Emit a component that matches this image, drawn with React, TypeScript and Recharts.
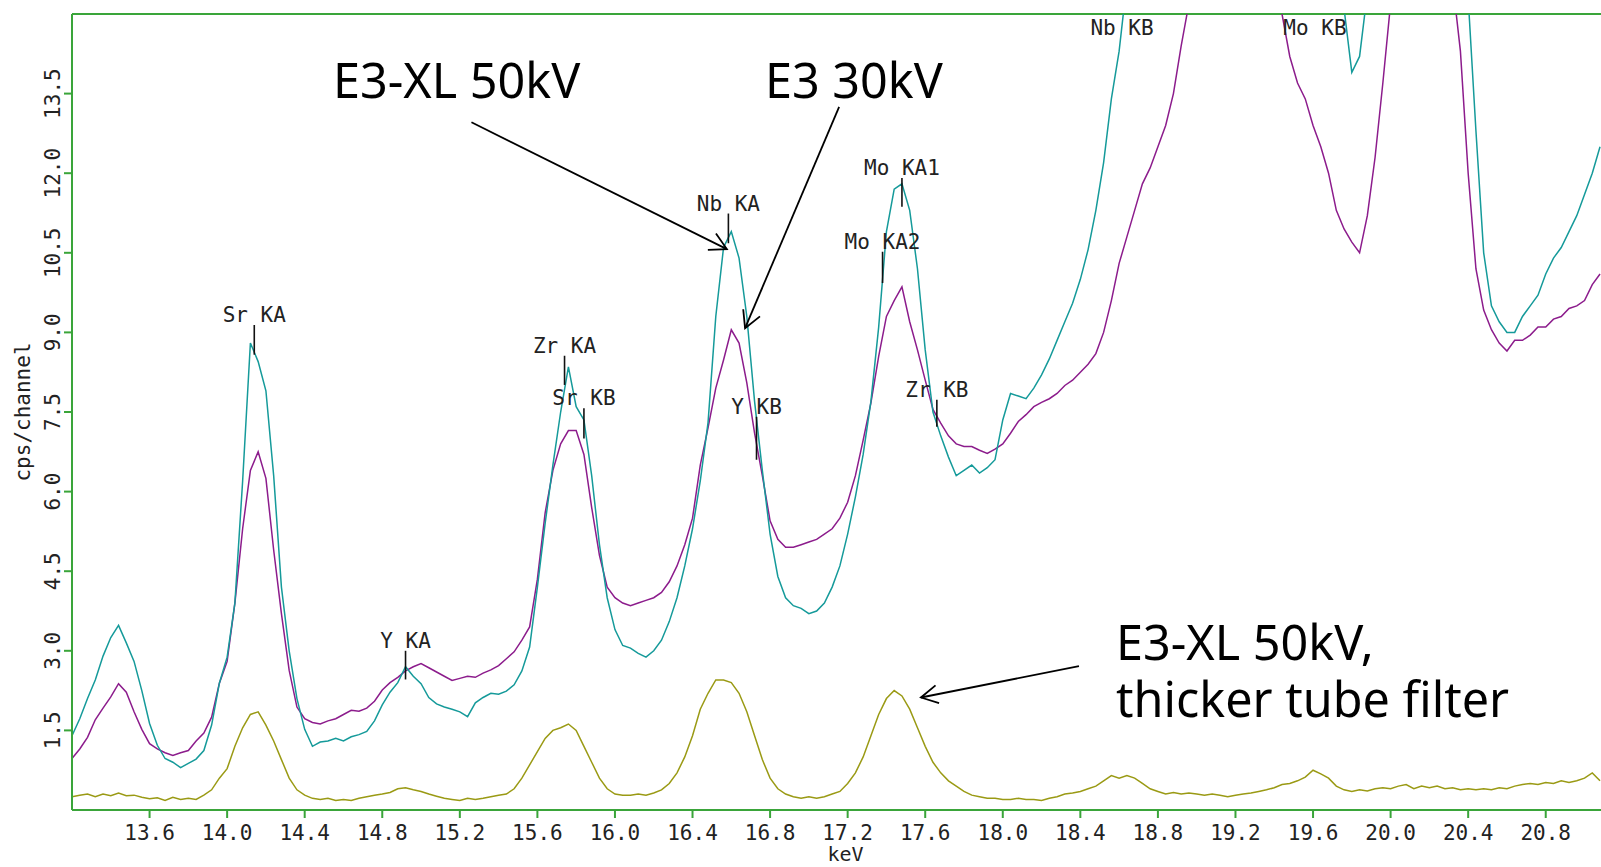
import { LineChart, Line, XAxis, YAxis, ReferenceLine, ReferenceDot } from "recharts";

// channel energies (keV)
const energy = [
  13.20, 13.24, 13.28, 13.32, 13.36, 13.40, 13.44, 13.48, 13.52, 13.56,
  13.60, 13.64, 13.68, 13.72, 13.76, 13.80, 13.84, 13.88, 13.92, 13.96,
  14.00, 14.04, 14.08, 14.12, 14.16, 14.20, 14.24, 14.28, 14.32, 14.36,
  14.40, 14.44, 14.48, 14.52, 14.56, 14.60, 14.64, 14.68, 14.72, 14.76,
  14.80, 14.84, 14.88, 14.92, 14.96, 15.00, 15.04, 15.08, 15.12, 15.16,
  15.20, 15.24, 15.28, 15.32, 15.36, 15.40, 15.44, 15.48, 15.52, 15.56,
  15.60, 15.64, 15.68, 15.72, 15.76, 15.80, 15.84, 15.88, 15.92, 15.96,
  16.00, 16.04, 16.08, 16.12, 16.16, 16.20, 16.24, 16.28, 16.32, 16.36,
  16.40, 16.44, 16.48, 16.52, 16.56, 16.60, 16.64, 16.68, 16.72, 16.76,
  16.80, 16.84, 16.88, 16.92, 16.96, 17.00, 17.04, 17.08, 17.12, 17.16,
  17.20, 17.24, 17.28, 17.32, 17.36, 17.40, 17.44, 17.48, 17.52, 17.56,
  17.60, 17.64, 17.68, 17.72, 17.76, 17.80, 17.84, 17.88, 17.92, 17.96,
  18.00, 18.04, 18.08, 18.12, 18.16, 18.20, 18.24, 18.28, 18.32, 18.36,
  18.40, 18.44, 18.48, 18.52, 18.56, 18.60, 18.64, 18.68, 18.72, 18.76,
  18.80, 18.84, 18.88, 18.92, 18.96, 19.00, 19.04, 19.08, 19.12, 19.16,
  19.20, 19.24, 19.28, 19.32, 19.36, 19.40, 19.44, 19.48, 19.52, 19.56,
  19.60, 19.64, 19.68, 19.72, 19.76, 19.80, 19.84, 19.88, 19.92, 19.96,
  20.00, 20.04, 20.08, 20.12, 20.16, 20.20, 20.24, 20.28, 20.32, 20.36,
  20.40, 20.44, 20.48, 20.52, 20.56, 20.60, 20.64, 20.68, 20.72, 20.76,
  20.80, 20.84, 20.88, 20.92, 20.96, 21.00, 21.04, 21.08,
];

// E3-XL 50kV (teal)
const e3xl50 = [
  1.40, 1.72, 2.10, 2.45, 2.90, 3.25, 3.48, 3.15, 2.80, 2.25,
  1.63, 1.22, 0.97, 0.90, 0.80, 0.88, 0.96, 1.12, 1.60, 2.39,
  2.88, 3.90, 6.20, 8.80, 8.45, 7.90, 6.30, 4.20, 3.00, 2.10,
  1.52, 1.20, 1.28, 1.30, 1.35, 1.30, 1.38, 1.42, 1.48, 1.68,
  1.98, 2.22, 2.40, 2.70, 2.52, 2.38, 2.12, 2.00, 1.94, 1.90,
  1.85, 1.76, 2.02, 2.12, 2.20, 2.18, 2.24, 2.36, 2.62, 3.07,
  4.20, 5.40, 6.50, 7.50, 8.35, 7.60, 7.35, 6.30, 5.00, 4.00,
  3.40, 3.10, 3.05, 2.95, 2.88, 3.00, 3.20, 3.55, 4.00, 4.60,
  5.30, 6.20, 7.30, 9.30, 10.60, 10.90, 10.40, 9.30, 7.70, 6.40,
  5.20, 4.40, 4.00, 3.85, 3.80, 3.70, 3.75, 3.90, 4.20, 4.60,
  5.20, 5.90, 6.70, 7.70, 9.10, 10.90, 11.70, 11.80, 11.30, 10.20,
  8.67, 7.50, 7.05, 6.65, 6.30, 6.40, 6.50, 6.35, 6.45, 6.60,
  7.35, 7.85, 7.80, 7.75, 7.95, 8.20, 8.50, 8.85, 9.20, 9.55,
  10.00, 10.56, 11.30, 12.20, 13.40, 14.30, 15.60, 16.80, 17.60, 18.20,
  18.60, 18.80, 19.00, 19.20, 19.40, 19.50, 19.60, 19.50, 19.30, 19.00,
  18.60, 18.20, 17.80, 17.40, 17.00, 16.70, 16.40, 16.10, 15.90, 15.70,
  15.60, 15.50, 15.40, 15.30, 15.10, 13.90, 14.20, 15.40, 17.00, 19.00,
  21.00, 23.00, 24.00, 24.50, 24.50, 24.00, 22.50, 20.50, 18.50, 16.80,
  15.30, 12.80, 10.50, 9.50, 9.20, 9.00, 9.00, 9.30, 9.50, 9.70,
  10.10, 10.40, 10.60, 10.90, 11.20, 11.60, 12.00, 12.50,
];

// E3 30kV (purple)
const e3kv30 = [
  0.97, 1.15, 1.37, 1.70, 1.92, 2.13, 2.38, 2.22, 1.85, 1.52,
  1.25, 1.15, 1.08, 1.03, 1.08, 1.12, 1.30, 1.45, 1.75, 2.39,
  2.80, 3.90, 5.30, 6.40, 6.75, 6.25, 4.90, 3.70, 2.63, 1.94,
  1.72, 1.65, 1.62, 1.68, 1.72, 1.80, 1.88, 1.86, 1.92, 2.05,
  2.26, 2.40, 2.50, 2.62, 2.70, 2.76, 2.68, 2.60, 2.52, 2.44,
  2.48, 2.52, 2.50, 2.58, 2.64, 2.72, 2.85, 2.98, 3.20, 3.45,
  4.35, 5.60, 6.40, 6.90, 7.15, 7.15, 6.70, 5.70, 4.80, 4.20,
  4.00, 3.90, 3.85, 3.90, 3.95, 4.00, 4.10, 4.30, 4.60, 5.00,
  5.50, 6.50, 7.20, 7.95, 8.48, 9.05, 8.80, 8.05, 7.10, 6.30,
  5.45, 5.10, 4.95, 4.95, 5.00, 5.05, 5.10, 5.20, 5.30, 5.50,
  5.80, 6.30, 6.97, 7.67, 8.55, 9.30, 9.60, 9.86, 9.20, 8.67,
  8.10, 7.55, 7.29, 7.05, 6.90, 6.85, 6.85, 6.78, 6.72, 6.80,
  6.90, 7.10, 7.32, 7.45, 7.60, 7.68, 7.75, 7.85, 8.00, 8.10,
  8.25, 8.40, 8.60, 9.00, 9.60, 10.30, 10.80, 11.30, 11.80, 12.10,
  12.50, 12.90, 13.50, 14.40, 15.20, 16.00, 16.60, 17.00, 17.20, 17.10,
  16.90, 16.60, 16.20, 15.90, 15.60, 15.30, 15.00, 14.20, 13.70, 13.40,
  12.90, 12.50, 12.00, 11.30, 10.95, 10.70, 10.50, 11.20, 12.30, 13.70,
  15.20, 16.50, 17.50, 18.20, 18.50, 18.40, 17.80, 16.80, 15.60, 14.30,
  12.00, 10.20, 9.42, 9.05, 8.80, 8.65, 8.85, 8.85, 8.95, 9.10,
  9.10, 9.25, 9.30, 9.45, 9.50, 9.60, 9.90, 10.10,
];

// E3-XL 50kV, thicker tube filter (olive)
const e3xlFilter = [
  0.25, 0.28, 0.30, 0.25, 0.30, 0.27, 0.32, 0.27, 0.28, 0.24,
  0.21, 0.23, 0.18, 0.24, 0.20, 0.22, 0.20, 0.28, 0.38, 0.60,
  0.78, 1.20, 1.55, 1.80, 1.85, 1.60, 1.30, 0.95, 0.60, 0.38,
  0.28, 0.22, 0.20, 0.22, 0.18, 0.20, 0.18, 0.22, 0.25, 0.28,
  0.30, 0.33, 0.40, 0.42, 0.38, 0.35, 0.30, 0.26, 0.22, 0.20,
  0.18, 0.22, 0.20, 0.22, 0.25, 0.28, 0.30, 0.40, 0.60, 0.85,
  1.10, 1.35, 1.50, 1.55, 1.62, 1.50, 1.20, 0.90, 0.60, 0.40,
  0.30, 0.28, 0.28, 0.30, 0.28, 0.32, 0.38, 0.50, 0.70, 1.00,
  1.40, 1.90, 2.20, 2.45, 2.45, 2.40, 2.20, 1.85, 1.40, 0.95,
  0.60, 0.40, 0.30, 0.25, 0.22, 0.25, 0.22, 0.25, 0.30, 0.35,
  0.50, 0.70, 1.00, 1.40, 1.80, 2.10, 2.25, 2.15, 1.90, 1.55,
  1.20, 0.90, 0.70, 0.55, 0.45, 0.35, 0.28, 0.25, 0.22, 0.22,
  0.20, 0.20, 0.22, 0.20, 0.20, 0.18, 0.22, 0.25, 0.30, 0.32,
  0.35, 0.40, 0.45, 0.55, 0.65, 0.60, 0.65, 0.60, 0.50, 0.40,
  0.35, 0.30, 0.33, 0.30, 0.32, 0.30, 0.28, 0.30, 0.28, 0.25,
  0.28, 0.30, 0.32, 0.35, 0.38, 0.42, 0.48, 0.50, 0.55, 0.62,
  0.75, 0.68, 0.60, 0.45, 0.38, 0.35, 0.38, 0.36, 0.40, 0.42,
  0.40, 0.45, 0.48, 0.40, 0.45, 0.42, 0.45, 0.40, 0.42, 0.38,
  0.40, 0.38, 0.40, 0.38, 0.42, 0.40, 0.45, 0.48, 0.50, 0.48,
  0.52, 0.50, 0.55, 0.52, 0.55, 0.60, 0.70, 0.55,
];

const xTicks = [13.6, 14.0, 14.4, 14.8, 15.2, 15.6, 16.0, 16.4, 16.8, 17.2, 17.6, 18.0, 18.4, 18.8, 19.2, 19.6, 20.0, 20.4, 20.8];
const yTicks = [1.5, 3.0, 4.5, 6.0, 7.5, 9.0, 10.5, 12.0, 13.5];

// element line markers (top == bottom: label only)
const peakNames = ["Sr KA", "Y KA", "Zr KA", "Sr KB", "Nb KA", "Y KB", "Mo KA2", "Mo KA1", "Zr KB", "Nb KB", "Mo KB"];
const peakEnergies = [14.14, 14.92, 15.74, 15.84, 16.585, 16.73, 17.38, 17.48, 17.66, 18.615, 19.61];
const peakTops = [9.14, 3.0, 8.56, 7.57, 11.24, 7.41, 10.52, 11.91, 7.73, 14.55, 14.55];
const peakBottoms = [8.58, 2.46, 8.01, 7.0, 10.68, 6.6, 9.93, 11.37, 7.22, 14.55, 14.55];

// callouts
const noteTexts = ["E3-XL 50kV", "E3 30kV", "E3-XL 50kV,", "thicker tube filter"];
const noteAt = [{ x: 14.546, y: 13.41 }, { x: 16.774, y: 13.41 }, { x: 18.584, y: 2.82 }, { x: 18.584, y: 1.75 }];
const arrowFrom = [{ x: 15.26, y: 12.96 }, { x: 17.156, y: 13.25 }, { x: 18.393, y: 2.71 }];
const arrowTo = [{ x: 16.577, y: 10.57 }, { x: 16.671, y: 9.08 }, { x: 17.578, y: 2.12 }];

const GREEN = "#3aa53a";
const MONO = "'DejaVu Sans Mono', monospace";

const rows = energy.map((e, i) => ({
  e,
  xl50: e3xl50[i],
  kv30: e3kv30[i],
  filt: e3xlFilter[i],
}));

const XTick = (props: any) => {
  const { x, y, payload } = props;
  return (
    <text x={x} y={y + 20} textAnchor="middle" fontFamily={MONO} fontSize={21} fill="#222">
      {Number(payload.value).toFixed(1)}
    </text>
  );
};

const YTick = (props: any) => {
  const { x, y, payload } = props;
  return (
    <text x={x} y={y} transform={`rotate(-90 ${x} ${y})`} textAnchor="middle" fontFamily={MONO} fontSize={21} fill="#222">
      {Number(payload.value).toFixed(1)}
    </text>
  );
};

const keVLabel = (props: any) => {
  const vb = props.viewBox;
  return (
    <text x={vb.x + vb.width / 2 + 9} y={vb.y + 51} textAnchor="middle" fontFamily={MONO} fontSize={20} fill="#222">
      keV
    </text>
  );
};

const cpsLabel = (props: any) => {
  const vb = props.viewBox;
  const cx = 30;
  const cy = vb.y + vb.height / 2;
  return (
    <text x={cx} y={cy} transform={`rotate(-90 ${cx} ${cy})`} textAnchor="middle" fontFamily={MONO} fontSize={21} fill="#222">
      cps/channel
    </text>
  );
};

const markerShape = (name: string) => (p: any) => {
  const top = Math.min(p.y1, p.y2);
  return (
    <g>
      {p.y1 !== p.y2 && <line x1={p.x1} y1={p.y1} x2={p.x2} y2={p.y2} stroke="#111" strokeWidth={1.6} />}
      <text x={p.x1} y={top - 3} textAnchor="middle" fontFamily={MONO} fontSize={21} fill="#222">
        {name}
      </text>
    </g>
  );
};

const arrowShape = (p: any) => {
  const { x1, y1, x2, y2 } = p;
  const ang = Math.atan2(y2 - y1, x2 - x1);
  const len = 19;
  const spread = 0.5;
  const ax = x2 - len * Math.cos(ang - spread);
  const ay = y2 - len * Math.sin(ang - spread);
  const bx = x2 - len * Math.cos(ang + spread);
  const by = y2 - len * Math.sin(ang + spread);
  return (
    <g>
      <line x1={x1} y1={y1} x2={x2} y2={y2} stroke="#000" strokeWidth={1.8} />
      <polyline points={`${ax},${ay} ${x2},${y2} ${bx},${by}`} fill="none" stroke="#000" strokeWidth={1.8} />
    </g>
  );
};

const noteShape = (label: string) => (p: any) => (
  <text x={p.cx} y={p.cy} fontFamily="'Noto Sans', sans-serif" fontSize={48.5} fill="#000">
    {label}
  </text>
);

const App = () => {
  return (
    <div style={{ position: "absolute", left: 0, top: 0, width: 1601, height: 867, background: "#fff" }}>
      <LineChart width={1601} height={867} data={rows} margin={{ top: 14, right: 0, bottom: 0, left: 0 }}>
        <XAxis
          type="number"
          dataKey="e"
          domain={[13.2, 21.085]}
          ticks={xTicks}
          interval={0}
          allowDataOverflow
          stroke={GREEN}
          strokeWidth={2}
          tickSize={8}
          tickMargin={2}
          tick={<XTick />}
          height={57}
          label={keVLabel}
        />
        <YAxis
          type="number"
          domain={[0, 15]}
          ticks={yTicks}
          interval={0}
          allowDataOverflow
          stroke={GREEN}
          strokeWidth={2}
          tickSize={8}
          tickMargin={4}
          tick={<YTick />}
          width={72}
          label={cpsLabel}
        />
        <ReferenceLine y={15} stroke={GREEN} strokeWidth={2} />
        <Line type="linear" dataKey="filt" stroke="#9a9a14" strokeWidth={1.5} dot={false} isAnimationActive={false} />
        <Line type="linear" dataKey="kv30" stroke="#8c1c8c" strokeWidth={1.5} dot={false} isAnimationActive={false} />
        <Line type="linear" dataKey="xl50" stroke="#159a9a" strokeWidth={1.5} dot={false} isAnimationActive={false} />
        {peakNames.map((n, i) => (
          <ReferenceLine
            key={n}
            segment={[
              { x: peakEnergies[i], y: peakTops[i] },
              { x: peakEnergies[i], y: peakBottoms[i] },
            ]}
            shape={markerShape(n)}
          />
        ))}
        {arrowFrom.map((a, i) => (
          <ReferenceLine key={`arrow-${i}`} segment={[a, arrowTo[i]]} shape={arrowShape} />
        ))}
        {noteTexts.map((t, i) => (
          <ReferenceDot key={`note-${i}`} x={noteAt[i].x} y={noteAt[i].y} r={0} shape={noteShape(t)} />
        ))}
      </LineChart>
    </div>
  );
};

export default App;
